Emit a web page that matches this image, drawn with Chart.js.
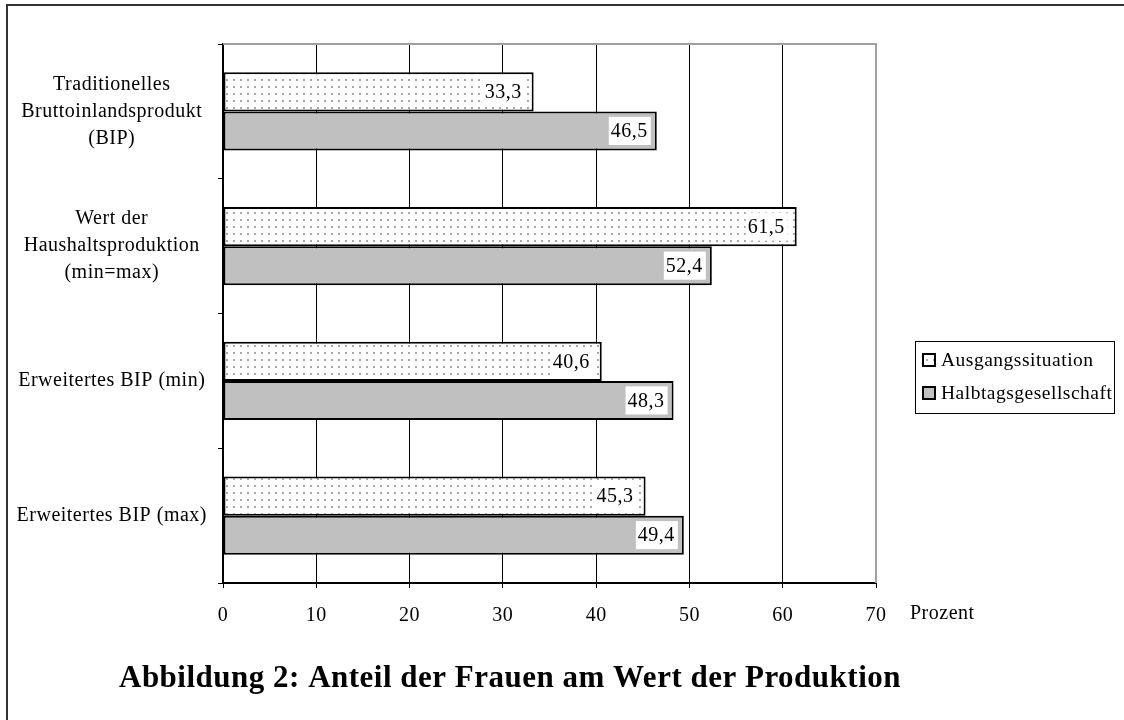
<!DOCTYPE html>
<html>
<head>
<meta charset="utf-8">
<script src="https://cdn.jsdelivr.net/npm/chart.js@4.4.0/dist/chart.umd.min.js"></script>
<style>
  html, body { margin: 0; padding: 0; background: #fff; }
  #wrap { width: 1124px; height: 720px; }
</style>
</head>
<body>
<div id="wrap"><canvas id="frauenChart" width="1124" height="720"></canvas></div>
<script>
// Daten
const categories = [
  ['Traditionelles', 'Bruttoinlandsprodukt', '(BIP)'],
  ['Wert der', 'Haushaltsproduktion', '(min=max)'],
  'Erweitertes BIP (min)',
  'Erweitertes BIP (max)'
];
const seriesNames = ['Ausgangssituation', 'Halbtagsgesellschaft'];
const ausgangssituation = [33.3, 61.5, 40.6, 45.3];
const halbtagsgesellschaft = [46.5, 52.4, 48.3, 49.4];
const xTicks = [0, 10, 20, 30, 40, 50, 60, 70];
const titleText = 'Abbildung 2: Anteil der Frauen am Wert der Produktion';
const unitText = 'Prozent';

const FONT = '"Liberation Serif", "Times New Roman", serif';

// Punktmuster fuer die Ausgangssituation
function dotPattern() {
  const c = document.createElement('canvas');
  c.width = 7; c.height = 7;
  const g = c.getContext('2d');
  g.fillStyle = '#ffffff';
  g.fillRect(0, 0, 7, 7);
  g.fillStyle = '#a8a8a8';
  g.fillRect(2, 2, 2, 2);
  return g.createPattern(c, 'repeat');
}

const fmt = v => v.toFixed(1).replace('.', ',');

// Rahmen, Legende, Titel, Werte
const extrasPlugin = {
  id: 'extras',
  beforeUpdate(chart) {
    chart.ctx.letterSpacing = '0.5px';
  },
  beforeDraw(chart) {
    const ctx = chart.ctx;
    ctx.save();
    ctx.fillStyle = '#fff';
    ctx.fillRect(0, 0, chart.width, chart.height);
    ctx.fillStyle = '#333';
    ctx.fillRect(6, 4, 2, chart.height);
    ctx.fillRect(6, 4, chart.width, 2);
    ctx.restore();
  },
  beforeDatasetsDraw(chart) {
    const {ctx, chartArea: a} = chart;
    ctx.save();
    ctx.strokeStyle = '#a0a0a0';
    ctx.lineWidth = 2;
    ctx.beginPath();
    ctx.moveTo(a.left, a.top);
    ctx.lineTo(a.right, a.top);
    ctx.lineTo(a.right, a.bottom);
    ctx.stroke();
    ctx.restore();
  },
  afterDatasetsDraw(chart) {
    const ctx = chart.ctx;
    ctx.save();
    ctx.font = '20px ' + FONT;
    ctx.textAlign = 'right';
    ctx.textBaseline = 'middle';
    chart.data.datasets.forEach((ds, i) => {
      const inset = i === 0 ? 12 : 9;
      chart.getDatasetMeta(i).data.forEach((bar, j) => {
        const txt = fmt(ds.data[j]);
        const tw = ctx.measureText(txt).width;
        const textRight = bar.x - inset;
        const h = bar.height - 11;
        ctx.fillStyle = '#fff';
        ctx.fillRect(textRight - tw - 2, bar.y - h / 2, tw + 5, h);
        ctx.fillStyle = '#000';
        ctx.fillText(txt, textRight, bar.y + 1);
      });
    });
    ctx.restore();
  },
  afterDraw(chart) {
    const ctx = chart.ctx;
    ctx.save();
    // Einheit
    ctx.font = '20px ' + FONT;
    ctx.fillStyle = '#000';
    ctx.textBaseline = 'middle';
    ctx.textAlign = 'left';
    ctx.fillText(unitText, 910, 614);
    // Legende
    ctx.font = '19.5px ' + FONT;
    ctx.strokeStyle = '#000';
    ctx.lineWidth = 1;
    ctx.strokeRect(915.5, 341.5, 199, 72);
    const rows = [360, 393];
    const fills = [chart.data.datasets[0].backgroundColor, chart.data.datasets[1].backgroundColor];
    rows.forEach((y, i) => {
      ctx.fillStyle = fills[i];
      ctx.fillRect(923, y - 6, 12, 12);
      ctx.lineWidth = 2;
      ctx.strokeRect(923, y - 6, 12, 12);
      ctx.fillStyle = '#000';
      ctx.fillText(seriesNames[i], 941, y + 1);
    });
    // Titel
    ctx.font = 'bold 31px ' + FONT;
    ctx.textAlign = 'center';
    ctx.fillText(titleText, 510, 679);
    ctx.restore();
  }
};

const ctx = document.getElementById('frauenChart');
const frauenChart = new Chart(ctx, {
  type: 'bar',
  data: {
    labels: categories,
    datasets: [
      {
        label: seriesNames[0],
        data: ausgangssituation,
        backgroundColor: dotPattern(),
        borderColor: '#000',
        borderWidth: 2,
        borderSkipped: false
      },
      {
        label: seriesNames[1],
        data: halbtagsgesellschaft,
        backgroundColor: '#c0c0c0',
        borderColor: '#000',
        borderWidth: 2,
        borderSkipped: false
      }
    ]
  },
  options: {
    indexAxis: 'y',
    responsive: false,
    animation: false,
    devicePixelRatio: 1,
    categoryPercentage: 0.58,
    barPercentage: 1.0,
    layout: {
      padding: { left: 7, top: 44, right: 248, bottom: 77 }
    },
    scales: {
      x: {
        min: 0,
        max: 70,
        afterBuildTicks: scale => { scale.ticks = xTicks.map(v => ({ value: v })); },
        afterFit: scale => { scale.height = 60; },
        ticks: {
          color: '#000',
          font: { family: FONT, size: 20 },
          padding: 16,
          maxRotation: 0
        },
        grid: {
          color: c => (c.tick && c.tick.value === 70 ? '#a0a0a0' : '#000'),
          lineWidth: 1,
          tickLength: 5,
          tickColor: '#000'
        },
        border: { display: true, color: '#000', width: 2 }
      },
      y: {
        afterFit: scale => { scale.width = 216; },
        ticks: {
          color: '#000',
          font: { family: FONT, size: 20, lineHeight: 1.35 },
          crossAlign: 'center',
          padding: 11
        },
        grid: {
          offset: true,
          drawOnChartArea: false,
          tickLength: 5,
          tickColor: '#000'
        },
        border: { display: true, color: '#000', width: 2 }
      }
    },
    plugins: {
      legend: { display: false },
      title: { display: false },
      tooltip: { enabled: false }
    }
  },
  plugins: [extrasPlugin]
});
</script>
</body>
</html>
